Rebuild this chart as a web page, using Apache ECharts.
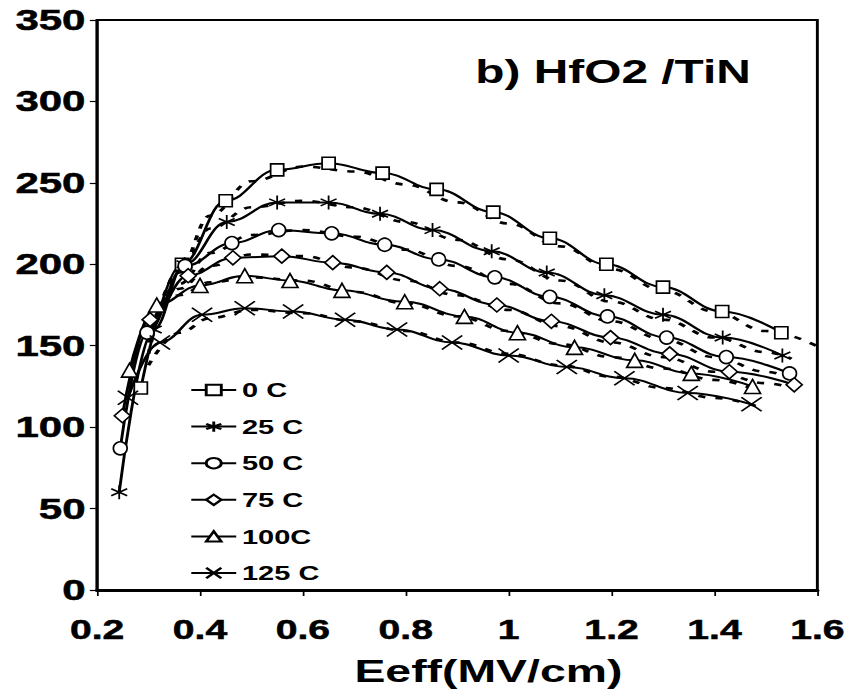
<!DOCTYPE html>
<html>
<head>
<meta charset="utf-8">
<script src="https://cdn.jsdelivr.net/npm/echarts@6/dist/echarts.min.js"></script>
<style>
html,body{margin:0;padding:0;background:#fff;overflow:hidden;}
#wrap{width:855px;height:694px;overflow:hidden;}
#c{width:590px;height:694px;transform:scaleX(1.4492);transform-origin:0 0;}
</style>
</head>
<body>
<div id="wrap"><div id="c"></div></div>
<script>
// ---- data ----
const seriesNames = ['0 C', '25 C', '50 C', '75 C', '100C', '125 C'];
const xTicks = ['0.2', '0.4', '0.6', '0.8', '1', '1.2', '1.4', '1.6'];
const yTicks = ['0', '50', '100', '150', '200', '250', '300', '350'];

const d0 = [[0.285,124],[0.365,200],[0.45,239],[0.55,258],[0.65,262],[0.755,256],[0.86,246],[0.97,232],[1.08,216],[1.19,200],[1.30,186],[1.415,171],[1.53,158]];
const d25 = [[0.243,60],[0.31,160],[0.37,200],[0.452,226],[0.55,238],[0.65,238],[0.75,231],[0.852,221],[0.967,208],[1.074,195],[1.186,181],[1.30,169],[1.416,155],[1.532,144]];
const d50 = [[0.245,87],[0.297,158],[0.371,199],[0.462,213],[0.553,221],[0.656,219],[0.759,212],[0.864,203],[0.973,192],[1.08,180],[1.192,168],[1.307,155],[1.423,143],[1.546,133]];
const d75 = [[0.249,107],[0.303,166],[0.377,193],[0.464,204],[0.559,205],[0.658,201],[0.763,195],[0.866,185],[0.977,175],[1.083,165],[1.198,155],[1.313,145],[1.429,134],[1.555,126]];
const d100 = [[0.263,135],[0.316,175],[0.40,187],[0.487,193],[0.575,190],[0.676,184],[0.798,177],[0.914,168],[1.017,158],[1.128,149],[1.245,141],[1.355,133],[1.474,125]];
const d125 = [[0.26,118],[0.322,152],[0.404,169],[0.487,173],[0.581,171],[0.682,166],[0.783,160],[0.89,152],[1.0,144],[1.113,137],[1.225,130],[1.348,121],[1.472,114]];

// dashed model-fit curves
const f0 = [[0.30,145],[0.36,197],[0.42,230],[0.5,251],[0.6,260],[0.7,257],[0.8,249],[0.9,238],[1.0,225],[1.1,211],[1.2,197],[1.3,184],[1.4,171],[1.5,159],[1.64,143]];
const f25 = [[0.30,152],[0.36,195],[0.42,222],[0.5,235],[0.6,239],[0.7,235],[0.8,226],[0.9,215],[1.0,203],[1.1,190],[1.2,177],[1.3,166],[1.4,155],[1.5,146],[1.55,142]];
const f50 = [[0.30,155],[0.36,188],[0.42,207],[0.5,218],[0.6,221],[0.7,217],[0.8,209],[0.9,199],[1.0,188],[1.1,176],[1.2,165],[1.3,154],[1.4,143],[1.5,134],[1.56,129]];
const f75 = [[0.30,158],[0.36,185],[0.42,199],[0.5,206],[0.6,205],[0.7,198],[0.8,190],[0.9,181],[1.0,172],[1.1,162],[1.2,152],[1.3,143],[1.4,134],[1.5,127],[1.56,123]];
const f100 = [[0.30,162],[0.36,181],[0.42,189],[0.5,192],[0.6,190],[0.7,183],[0.8,176],[0.9,168],[1.0,159],[1.1,151],[1.2,143],[1.3,136],[1.4,129],[1.48,123]];
const f125 = [[0.30,138],[0.36,158],[0.42,167],[0.5,172],[0.6,170],[0.7,165],[0.8,159],[0.9,152],[1.0,145],[1.1,138],[1.2,131],[1.3,124],[1.4,118],[1.48,113]];

const dataSets = [d0, d25, d50, d75, d100, d125];
const fitSets = [f0, f25, f50, f75, f100, f125];

// ---- styling ----
const FONT = '"Liberation Sans", Arial, sans-serif';
const ASTERISK = 'path://M5,0L5,10M0,2.5L10,7.5M0,7.5L10,2.5';
const CROSS = 'path://M0,0L14,10M0,10L14,0';
const symbols = ['rect', ASTERISK, 'circle', 'diamond', 'triangle', CROSS];
const symbolSizes = [[9,12],[11,14],[9.5,13],[11,14],[11,14],[14,14]];

const series = [];
fitSets.forEach((f, i) => {
  series.push({
    name: 'fit' + i, type: 'line', data: f, smooth: 0.4, smoothMonotone: 'x',
    showSymbol: false, symbol: 'none', clip: i !== 0, silent: true, z: 2,
    lineStyle: { color: '#000', width: 2.6, type: [5, 7] }
  });
});
dataSets.forEach((d, i) => {
  series.push({
    name: seriesNames[i], type: 'line', data: d, smooth: 0.4, smoothMonotone: 'x',
    symbol: symbols[i], symbolSize: symbolSizes[i], z: 3,
    lineStyle: { color: '#000', width: 2 },
    itemStyle: { color: '#fff', borderColor: '#000', borderWidth: 1.4 }
  });
});

const chart = echarts.init(document.getElementById('c'), null, { renderer: 'svg' });
chart.setOption({
  animation: false,
  backgroundColor: '#fff',
  grid: { left: 67, right: 26, top: 20, bottom: 104, show: true, borderColor: '#000', borderWidth: 2, backgroundColor: 'transparent' },
  xAxis: {
    type: 'value', min: 0.2, max: 1.6, interval: 0.2,
    axisLine: { show: true, onZero: false, lineStyle: { color: '#000', width: 3 } },
    axisTick: { show: true, length: 6, lineStyle: { color: '#000', width: 1.2 } },
    splitLine: { show: false },
    axisLabel: {
      margin: 26, color: '#000', fontSize: 27, fontWeight: 'bold', fontFamily: FONT,
      textBorderColor: '#000', textBorderWidth: 0.5,
      formatter: v => xTicks[Math.round((v - 0.2) / 0.2)]
    }
  },
  yAxis: {
    type: 'value', min: 0, max: 350, interval: 50,
    axisLine: { show: true, onZero: false, lineStyle: { color: '#000', width: 2 } },
    axisTick: { show: true, length: 5, lineStyle: { color: '#000', width: 1.2 } },
    splitLine: { show: false },
    axisLabel: {
      margin: 8, color: '#000', fontSize: 29, fontWeight: 'bold', fontFamily: FONT,
      textBorderColor: '#000', textBorderWidth: 0.5,
      formatter: v => yTicks[Math.round(v / 50)]
    }
  },
  legend: {
    data: seriesNames, orient: 'vertical', left: 126, top: 375,
    itemWidth: 31, itemHeight: 13, itemGap: 16.6,
    textStyle: { color: '#000', fontSize: 20, fontWeight: 'bold', fontFamily: FONT, padding: [0,0,0,-1] },
    selectedMode: false
  },
  graphic: [
    { type: 'text', x: 328, y: 72, style: { text: 'b) HfO2 /TiN', fill: '#000', fontSize: 33, fontWeight: 'bold', fontFamily: FONT, align: 'left', verticalAlign: 'middle' } },
    { type: 'text', x: 337, y: 671, style: { text: 'Eeff(MV/cm)', fill: '#000', fontSize: 32, fontWeight: 'bold', fontFamily: FONT, align: 'center', verticalAlign: 'middle' } }
  ],
  series: series
});
</script>
</body>
</html>
